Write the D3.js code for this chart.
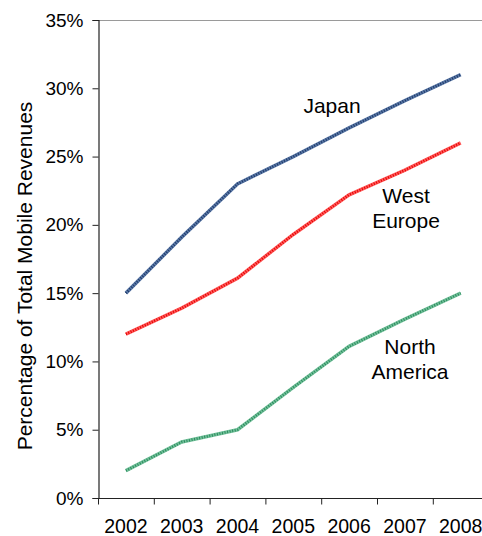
<!DOCTYPE html>
<html>
<head>
<meta charset="utf-8">
<script src="https://cdn.jsdelivr.net/npm/d3@7"></script>
<style>
  html, body { margin: 0; padding: 0; background: #fff; }
  svg { display: block; }
  text { font-family: "Liberation Sans", Arial, sans-serif; fill: #000; }
</style>
</head>
<body>
<svg id="chart" width="482" height="536"></svg>
<script>
// Share of total mobile revenues by region, 2002-2008
const years = ["2002", "2003", "2004", "2005", "2006", "2007", "2008"];
const japan = [15.0, 19.1, 23.0, 25.0, 27.1, 29.1, 31.0];
const westEurope = [12.0, 13.9, 16.1, 19.3, 22.2, 24.0, 26.0];
const northAmerica = [2.0, 4.1, 5.0, 8.1, 11.1, 13.1, 15.0];
const yTicks = [0, 5, 10, 15, 20, 25, 30, 35];

const series = [
  { name: ["Japan"], values: japan, base: "#5a78a6", dark: "#1d3868", lx: 332, ly: 113 },
  { name: ["West", "Europe"], values: westEurope, base: "#ff5a5a", dark: "#e40000", lx: 406, ly: 203 },
  { name: ["North", "America"], values: northAmerica, base: "#72c09a", dark: "#2a8a5c", lx: 410, ly: 354 }
];

const svg = d3.select("#chart");
const plotLeft = 98, plotTop = 20, plotBottom = 498;
const bandStep = 55.8;
const plotRight = plotLeft + bandStep * years.length;

const x = d3.scaleBand().domain(years).range([plotLeft, plotRight]);
const y = d3.scaleLinear().domain([0, 35]).range([plotBottom, plotTop]);

// plot frame top edge
svg.append("line")
  .attr("x1", plotLeft).attr("x2", plotRight)
  .attr("y1", plotTop + 0.5).attr("y2", plotTop + 0.5)
  .attr("stroke", "#9a9a9a").attr("stroke-width", 1);

// y axis
const yAxis = svg.append("g")
  .attr("transform", `translate(${plotLeft + 0.5},0)`)
  .call(d3.axisLeft(y).tickValues(yTicks).tickSize(6).tickPadding(9)
    .tickFormat(d => d + "%"));
yAxis.select(".domain").attr("stroke", "#222").attr("stroke-width", 1.2);
yAxis.selectAll(".tick line").attr("stroke", "#222");
yAxis.selectAll("text").style("font-size", "19px")
  .attr("font-family", "Liberation Sans, Arial, sans-serif");

// x axis: tick marks sit on band boundaries, labels centred in bands
const xAxis = svg.append("g")
  .attr("transform", `translate(0,${plotBottom + 0.5})`);
xAxis.append("line")
  .attr("x1", plotLeft).attr("x2", plotRight)
  .attr("stroke", "#222").attr("stroke-width", 1.2);
xAxis.selectAll("line.tk")
  .data(years.concat(["end"]))
  .join("line")
  .attr("class", "tk")
  .attr("x1", (d, i) => plotLeft + i * x.step() + 0.5)
  .attr("x2", (d, i) => plotLeft + i * x.step() + 0.5)
  .attr("y1", 0).attr("y2", 6)
  .attr("stroke", "#222");
xAxis.selectAll("text")
  .data(years)
  .join("text")
  .attr("x", d => x(d) + x.bandwidth() / 2)
  .attr("y", 34)
  .attr("text-anchor", "middle")
  .style("font-size", "19.5px")
  .text(d => d);

// y axis title
svg.append("text")
  .attr("transform", "translate(32,276) rotate(-90)")
  .attr("text-anchor", "middle")
  .style("font-size", "21px")
  .text("Percentage of Total Mobile Revenues");

// lines
const line = d3.line()
  .x((d, i) => x(years[i]) + x.bandwidth() / 2)
  .y(d => y(d));

series.forEach(s => {
  svg.append("path")
    .datum(s.values)
    .attr("fill", "none")
    .attr("stroke", s.base)
    .attr("stroke-width", 3.6)
    .attr("d", line);
  svg.append("path")
    .datum(s.values)
    .attr("fill", "none")
    .attr("stroke", s.dark)
    .attr("stroke-width", 2.6)
    .attr("stroke-dasharray", "1,1.6")
    .attr("d", line);

  const t = svg.append("text")
    .attr("text-anchor", "middle")
    .style("font-size", "21px");
  s.name.forEach((n, i) => {
    t.append("tspan").attr("x", s.lx).attr("y", s.ly + i * 25).text(n);
  });
});
</script>
</body>
</html>
